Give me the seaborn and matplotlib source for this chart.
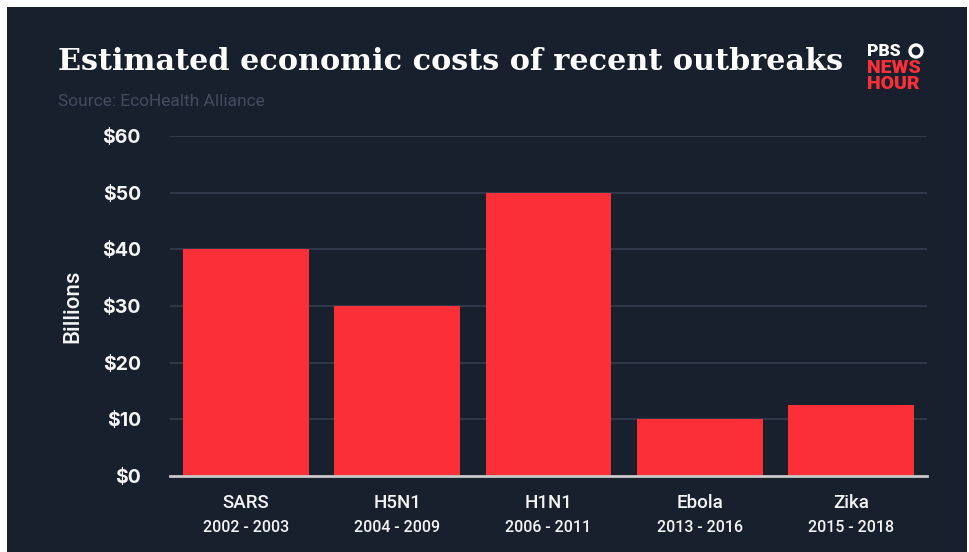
import matplotlib
matplotlib.use("Agg")
import matplotlib.pyplot as plt
import matplotlib.transforms as mtransforms
from matplotlib.patches import Rectangle, Ellipse
import seaborn as sns
import pandas as pd

outbreaks = ["SARS", "H5N1", "H1N1", "Ebola", "Zika"]
years = ["2002 - 2003", "2004 - 2009", "2006 - 2011", "2013 - 2016", "2015 - 2018"]
cost_billions = [40, 30, 50, 10, 12.5]
y_ticks = [0, 10, 20, 30, 40, 50, 60]
y_tick_labels = ["$0", "$10", "$20", "$30", "$40", "$50", "$60"]

BG = "#18202e"
RED = "#fa2f38"
GRID = "#343e4e"
WHITE = "#f4f4f4"

sns.set_theme(style="dark")
plt.rcParams["font.family"] = ["Roboto", "DejaVu Sans"]

df = pd.DataFrame({"outbreak": outbreaks, "cost": cost_billions})

fig = plt.figure(figsize=(9.69, 5.52), dpi=100, facecolor="white")
# dark card with a thin white margin on top/left/right
fig.patches.append(Rectangle((7 / 969, 0), (967 - 7) / 969, (552 - 7) / 552,
                             transform=fig.transFigure, facecolor=BG,
                             edgecolor="none", zorder=-5))

ax = fig.add_axes([170 / 969, 1 - 476 / 552, (927 - 170) / 969, (476 - 136) / 552])
ax.set_zorder(2)
ax.set_facecolor(BG)
ax.patch.set_alpha(0)

sns.barplot(data=df, x="outbreak", y="cost", color=RED, width=0.83,
            saturation=1, ax=ax, zorder=3)
for p in ax.patches:
    p.set_edgecolor("none")

ax.set_xlim(-0.5, 4.5)
ax.set_ylim(0, 60)
ax.set_yticks(y_ticks)
ax.set_yticklabels(y_tick_labels, color=WHITE, fontsize=14, fontweight="bold",
                   family=["Inter", "DejaVu Sans"])
ax.grid(axis="y", color=GRID, linewidth=1.2, zorder=0)
ax.grid(axis="x", visible=False)
ax.tick_params(axis="y", length=0, pad=21)
ax.tick_params(axis="x", length=0, pad=13)
ax.set_xticks(range(len(outbreaks)))
ax.set_xticklabels(outbreaks, color=WHITE, fontsize=13.5, fontweight="medium")
for s in ["left", "right", "top"]:
    ax.spines[s].set_visible(False)
ax.spines["bottom"].set_color("#c9c9c9")
ax.spines["bottom"].set_linewidth(2)
ax.spines["bottom"].set_zorder(5)

ax.set_xlabel("")
ax.set_ylabel("Billions", color=WHITE, fontsize=16, fontweight="medium", labelpad=13)

trans = mtransforms.blended_transform_factory(ax.transData, fig.transFigure)
for i, yr in enumerate(years):
    ax.text(i, 1 - 527 / 552, yr, transform=trans, ha="center", va="center",
            color=WHITE, fontsize=11.5, fontweight="medium")

fig.text(58 / 969, 1 - 61 / 552, "Estimated economic costs of recent outbreaks",
         family=["DejaVu Serif"], fontweight="bold", fontsize=21.8,
         color="white", ha="left", va="center")
fig.text(58 / 969, 1 - 102 / 552, "Source: EcoHealth Alliance",
         color="#434d5f", fontsize=12.5, ha="left", va="center")

# network logo
fig.text(867 / 969, 1 - 51 / 552, "PBS", color="white", fontsize=12.5,
         fontweight="black", ha="left", va="center")
fig.text(867 / 969, 1 - 76 / 552, "NEWS\nHOUR", color=RED, fontsize=14,
         fontweight="black", ha="left", va="center", linespacing=0.85)
fig.patches.append(Ellipse((916 / 969, 1 - 51 / 552), 12 / 969, 12 / 552,
                           transform=fig.transFigure, facecolor="none",
                           edgecolor="white", linewidth=2.4, zorder=5))

fig.savefig("out.png", dpi=100, facecolor="white")
